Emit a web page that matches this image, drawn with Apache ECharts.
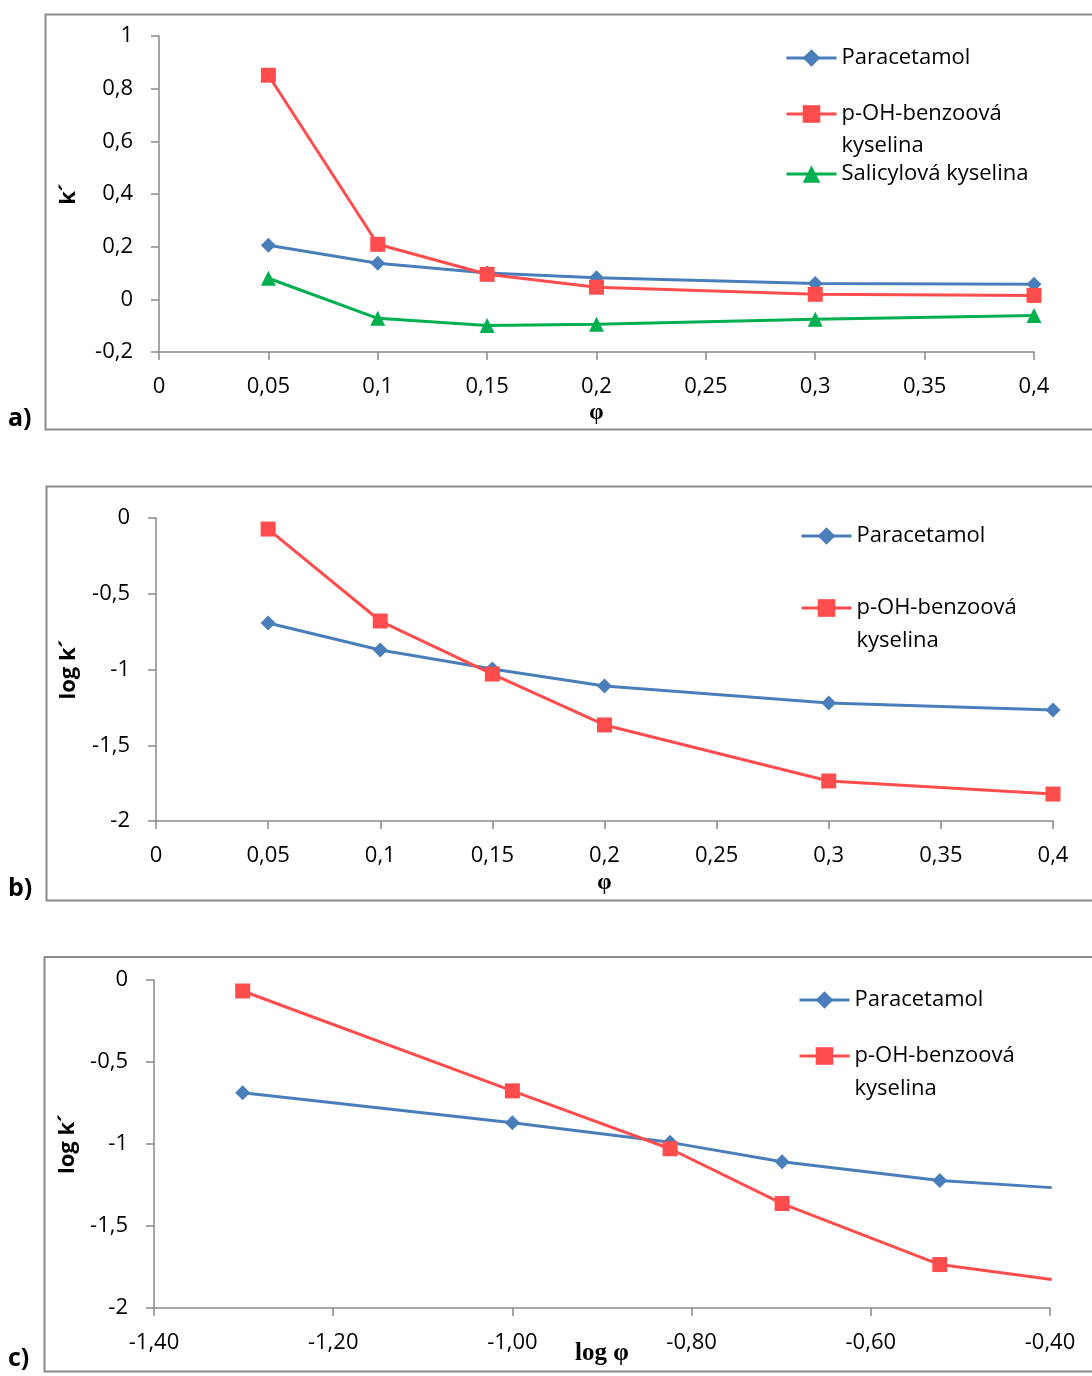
<!DOCTYPE html>
<html><head><meta charset="utf-8">
<script src="https://cdn.jsdelivr.net/npm/echarts@6/dist/echarts.min.js"></script>
<style>html,body{margin:0;padding:0;background:#fff}#c{width:1092px;height:1376px}</style>
</head><body><div id="c"></div>
<script>
// ---- data ----
const phi = [0.05, 0.1, 0.15, 0.2, 0.3, 0.4];
const logPhi = [-1.301, -1.0, -0.824, -0.699, -0.523, -0.398];
// panel a: k'
const kParacetamol = [0.205, 0.137, 0.100, 0.082, 0.060, 0.057];
const kPOH = [0.851, 0.209, 0.095, 0.046, 0.019, 0.015];
const kSalicyl = [0.080, -0.072, -0.099, -0.095, -0.076, -0.061];
// panel b: log k' vs phi
const logkParacetamolB = [-0.693, -0.871, -0.997, -1.109, -1.221, -1.267];
const logkPOHB = [-0.073, -0.680, -1.030, -1.366, -1.736, -1.822];
// panel c: log k' vs log phi
const logkParacetamolC = [-0.688, -0.870, -0.990, -1.108, -1.223, -1.266];
const logkPOHC = [-0.067, -0.676, -1.029, -1.363, -1.735, -1.826];
// names
const nParacetamol = 'Paracetamol';
const nPOH = 'p-OH-benzoová\nkyselina';
const nSalicyl = 'Salicylová kyselina';

const BLUE = '#4a7ebb', RED = '#ff4d4d', GREEN = '#00b050';
const AX = '#8a8a8a';
const FONT = 'Open Sans';

const commaFmt = v => String(Math.round(v * 100) / 100).replace('.', ',');
const comma2Fmt = v => v.toFixed(2).replace('.', ',');

function pairs(xs, ys) { return xs.map((x, i) => [x, ys[i]]); }

function xAxis(gi, min, max, interval, name, gap, fmt, nameSize) {
  return {
    type: 'value', gridIndex: gi, min, max, interval,
    name, nameLocation: 'middle', nameGap: gap, nameMoveOverlap: false,
    nameTextStyle: { fontFamily: 'Liberation Serif', fontWeight: 'bold', fontSize: nameSize, color: '#000' },
    axisLine: { show: true, onZero: false, lineStyle: { color: AX, width: 1.5 } },
    axisTick: { show: true, length: 8, lineStyle: { color: AX, width: 1.5 } },
    axisLabel: { margin: 24, fontFamily: FONT, fontSize: 22, color: '#000', formatter: fmt },
    splitLine: { show: false }
  };
}
function yAxis(gi, min, max, interval, name, gap) {
  return {
    type: 'value', gridIndex: gi, min, max, interval,
    name, nameLocation: 'middle', nameGap: gap, nameRotate: 90, nameMoveOverlap: false,
    nameTextStyle: { fontFamily: FONT, fontWeight: 'bold', fontSize: 22, color: '#000' },
    axisLine: { show: true, onZero: false, lineStyle: { color: AX, width: 1.5 } },
    axisTick: { show: true, length: 8, lineStyle: { color: AX, width: 1.5 } },
    axisLabel: { margin: 26, fontFamily: FONT, fontSize: 22, color: '#000', formatter: commaFmt },
    splitLine: { show: false }
  };
}
function series(name, gi, data, color, symbol) {
  return {
    type: 'line', name, xAxisIndex: gi, yAxisIndex: gi, data,
    symbol, symbolSize: 15,
    clip: true, animation: false,
    lineStyle: { color, width: 3 },
    itemStyle: { color }
  };
}
function legend(name, left, top, L) {
  return {
    data: [name], left, top, orient: 'vertical', padding: 0,
    itemWidth: 50, itemHeight: 22, selectedMode: false,
    lineStyle: { width: 3 },
    formatter: n => (n.indexOf('\n') >= 0 ? '\n' + n : n),
    textStyle: { fontFamily: FONT, fontSize: 22, color: '#000', lineHeight: L }
  };
}

const chart = echarts.init(document.getElementById('c'), null, { renderer: 'canvas' });
chart.setOption({
  backgroundColor: '#fff',
  animation: false,
  grid: [
    { left: 159, top: 36, width: 875, height: 316, outerBoundsMode: 'none', containLabel: false },
    { left: 156, top: 518, width: 897, height: 303, outerBoundsMode: 'none', containLabel: false },
    { left: 154, top: 980, width: 896, height: 328, outerBoundsMode: 'none', containLabel: false }
  ],
  xAxis: [
    xAxis(0, 0, 0.4, 0.05, 'φ', 50, commaFmt, 23),
    xAxis(1, 0, 0.4, 0.05, 'φ', 51, commaFmt, 23),
    xAxis(2, -1.4, -0.4, 0.2, 'log φ', 33, comma2Fmt, 25)
  ],
  yAxis: [
    yAxis(0, -0.2, 1, 0.2, 'k´', 79),
    yAxis(1, -2, 0, 0.5, 'log k´', 76),
    yAxis(2, -2, 0, 0.5, 'log k´', 75)
  ],
  legend: [
    legend(nParacetamol, 785, 43, 30),
    legend(nPOH, 785, 66, 32),
    legend(nSalicyl, 785, 159, 30),
    legend(nParacetamol, 800, 521, 30),
    legend(nPOH, 800, 558.5, 33),
    legend(nParacetamol, 798, 985, 30),
    legend(nPOH, 798, 1006.5, 33)
  ],
  series: [
    series(nParacetamol, 0, pairs(phi, kParacetamol), BLUE, 'diamond'),
    series(nPOH, 0, pairs(phi, kPOH), RED, 'rect'),
    series(nSalicyl, 0, pairs(phi, kSalicyl), GREEN, 'triangle'),
    series(nParacetamol, 1, pairs(phi, logkParacetamolB), BLUE, 'diamond'),
    series(nPOH, 1, pairs(phi, logkPOHB), RED, 'rect'),
    series(nParacetamol, 2, pairs(logPhi, logkParacetamolC), BLUE, 'diamond'),
    series(nPOH, 2, pairs(logPhi, logkPOHC), RED, 'rect')
  ],
  graphic: [
    { type: 'rect', shape: { x: 45.5, y: 14.5, width: 1100, height: 415 }, style: { fill: null, stroke: AX, lineWidth: 2 }, silent: true },
    { type: 'rect', shape: { x: 46.5, y: 486.5, width: 1100, height: 414 }, style: { fill: null, stroke: AX, lineWidth: 2 }, silent: true },
    { type: 'rect', shape: { x: 44.5, y: 957, width: 1100, height: 414.5 }, style: { fill: null, stroke: AX, lineWidth: 2 }, silent: true },
    { type: 'text', left: 8, top: 406, style: { text: 'a)', font: 'bold 25px "Open Sans"', fill: '#000' } },
    { type: 'text', left: 8, top: 876, style: { text: 'b)', font: 'bold 25px "Open Sans"', fill: '#000' } },
    { type: 'text', left: 8, top: 1346, style: { text: 'c)', font: 'bold 25px "Open Sans"', fill: '#000' } }
  ]
});
</script>
</body></html>
